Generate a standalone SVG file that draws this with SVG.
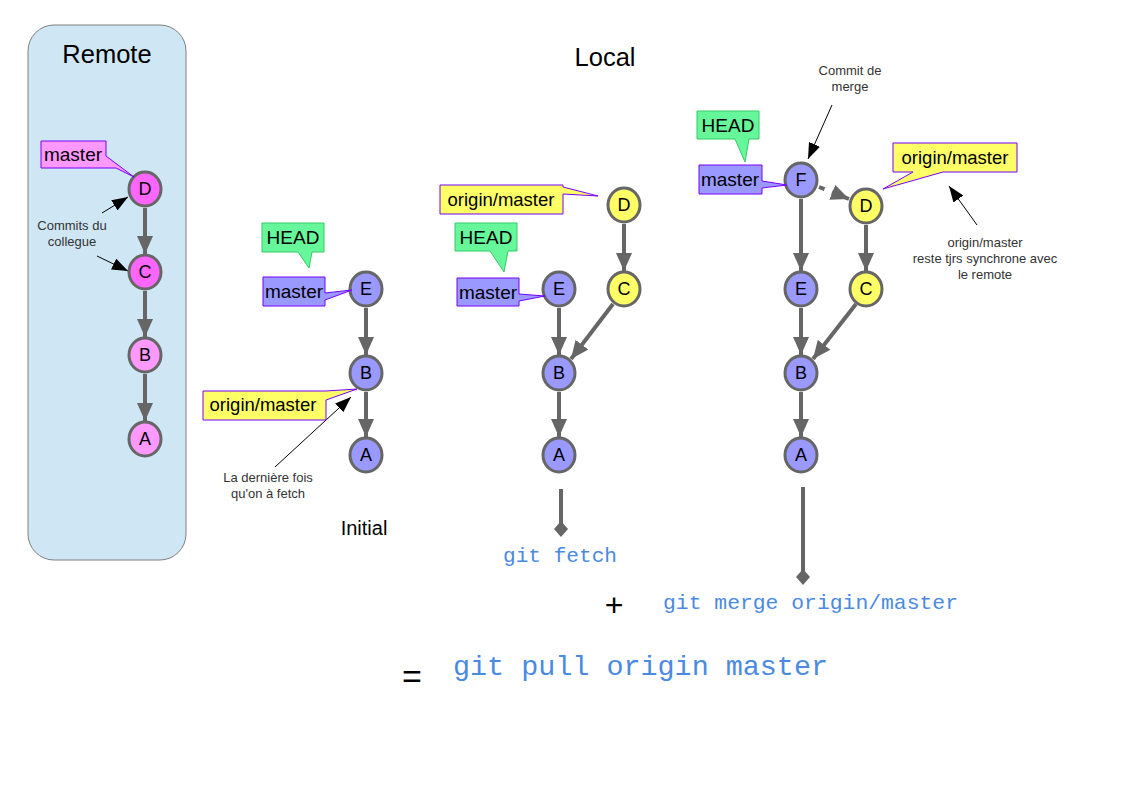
<svg xmlns="http://www.w3.org/2000/svg" width="1123" height="794" viewBox="0 0 1123 794">
<defs>
<marker id="ah" markerUnits="userSpaceOnUse" markerWidth="18" markerHeight="16" viewBox="0 0 18 16" refX="18" refY="8" orient="auto"><path d="M0,0 L18,8 L0,16 Z" fill="#666666"/></marker>
<marker id="bk" markerUnits="userSpaceOnUse" markerWidth="16" markerHeight="12" viewBox="0 0 16 12" refX="16" refY="6" orient="auto"><path d="M0,0 L16,6 L0,12 Z" fill="#000000"/></marker>
<style>
.edge{stroke:#666666;stroke-width:4;fill:none;marker-end:url(#ah)}
.ann{stroke:#000000;stroke-width:1;fill:none;marker-end:url(#bk)}
.node{stroke:#666666;stroke-width:3}
.blue{fill:#9999ff}
.yel{fill:#ffff66}
.pk1{fill:#ff66ff}
.pk2{fill:#ff99ff}
.nl{font-family:"Liberation Sans",Arial,sans-serif;font-size:18px;fill:#000;text-anchor:middle}
.lbl{font-family:"Liberation Sans",Arial,sans-serif;font-size:19px;fill:#000;text-anchor:middle}
.lbo{font-family:"Liberation Sans",Arial,sans-serif;font-size:18.5px;fill:#000;text-anchor:middle}
.head{fill:#66f79a;stroke:#33cc66;stroke-width:1}
.cb{stroke:#7700ff;stroke-width:1}
.small{font-family:"Liberation Sans",Arial,sans-serif;font-size:13px;fill:#333333;text-anchor:middle}
.title{font-family:"Liberation Sans",Arial,sans-serif;font-size:25.5px;fill:#000;text-anchor:middle}
.cmd{font-family:"Liberation Mono","Courier New",monospace;fill:#4a8ae2}
</style>
</defs>
<rect width="1123" height="794" fill="#ffffff"/>

<g id="remote">
<rect x="28" y="25" width="158" height="535" rx="26" ry="26" fill="#cfe6f4" stroke="#808080" stroke-width="1"/>
<text class="title" x="107" y="63">Remote</text>
</g>
<text class="title" x="605" y="66">Local</text>
<text x="364" y="535" font-family="Liberation Sans, Arial, sans-serif" font-size="20" text-anchor="middle" fill="#000">Initial</text>

<g id="connectors">
<line class="edge" x1="145" y1="208" x2="145" y2="254"/>
<line class="edge" x1="145" y1="291" x2="145" y2="337"/>
<line class="edge" x1="145" y1="374" x2="145" y2="421"/>
<line class="edge" x1="366" y1="308" x2="366" y2="355"/>
<line class="edge" x1="366" y1="392" x2="366" y2="437"/>
<line class="edge" x1="624" y1="224" x2="624" y2="271"/>
<line class="edge" x1="613" y1="304" x2="571" y2="359"/>
<line class="edge" x1="559" y1="308" x2="559" y2="355"/>
<line class="edge" x1="559" y1="392" x2="559" y2="437"/>
<line class="edge" x1="801" y1="199" x2="801" y2="271"/>
<line class="edge" x1="819" y1="187" x2="849" y2="199" stroke-dasharray="6,8"/>
<line class="edge" x1="866" y1="225" x2="866" y2="271"/>
<line class="edge" x1="856" y1="304" x2="813" y2="359"/>
<line class="edge" x1="801" y1="308" x2="801" y2="355"/>
<line class="edge" x1="801" y1="392" x2="801" y2="437"/>
<line x1="561" y1="489" x2="561" y2="524" stroke="#666666" stroke-width="4"/>
<path d="M561,521 L568,529 L561,537 L554,529 Z" fill="#666666"/>
<line x1="803" y1="487" x2="803" y2="572" stroke="#666666" stroke-width="4"/>
<path d="M803,569 L810,577 L803,585 L796,577 Z" fill="#666666"/>
<line class="ann" x1="102" y1="213" x2="128" y2="197"/>
<line class="ann" x1="97" y1="256" x2="128" y2="271"/>
<line class="ann" x1="275" y1="467" x2="351" y2="397"/>
<line class="ann" x1="832" y1="105" x2="808" y2="159"/>
<line class="ann" x1="977" y1="225" x2="949" y2="186"/>
</g>

<g id="remote-nodes">
<g id="rD"><ellipse class="node pk1" cx="145" cy="189" rx="16" ry="17"/><text class="nl" x="145" y="195">D</text></g>
<g id="rC"><ellipse class="node pk1" cx="145" cy="272" rx="16" ry="17"/><text class="nl" x="145" y="278">C</text></g>
<g id="rB"><ellipse class="node pk2" cx="145" cy="355" rx="16" ry="17"/><text class="nl" x="145" y="361">B</text></g>
<g id="rA"><ellipse class="node pk2" cx="145" cy="439" rx="16" ry="17"/><text class="nl" x="145" y="445">A</text></g>
<g id="rMaster"><path class="cb" fill="#ff99ff" d="M41,141 H106 V156 L134,177 L116,168 H41 Z"/><text class="lbl" x="73" y="161">master</text></g>
<text class="small" x="72" y="230">Commits du</text>
<text class="small" x="72" y="246">collegue</text>
</g>

<g id="initial">
<g id="iE"><ellipse class="node blue" cx="366" cy="289" rx="16" ry="17"/><text class="nl" x="366" y="295">E</text></g>
<g id="iB"><ellipse class="node blue" cx="366" cy="373" rx="16" ry="17"/><text class="nl" x="366" y="379">B</text></g>
<g id="iA"><ellipse class="node blue" cx="366" cy="455" rx="16" ry="17"/><text class="nl" x="366" y="461">A</text></g>
<g id="iHead"><path class="head" d="M262,223 H324 V252 H312 L309,268 L298,252 H262 Z"/><text class="lbl" x="293" y="244">HEAD</text></g>
<g id="iMaster"><path class="cb" fill="#9999ff" d="M263,277 H325 V293 L352,290 L325,300 V306 H263 Z"/><text class="lbl" x="294" y="298">master</text></g>
<g id="iOrigin"><path class="cb" fill="#ffff66" d="M203,391 H326 L357,389 L326,400 V420 H203 Z"/><text class="lbo" x="263" y="411">origin/master</text></g>
<text class="small" x="268" y="482">La dernière fois</text>
<text class="small" x="268" y="498">qu'on à fetch</text>
</g>

<g id="fetch">
<g id="fD"><ellipse class="node yel" cx="624" cy="205" rx="16" ry="17"/><text class="nl" x="624" y="211">D</text></g>
<g id="fC"><ellipse class="node yel" cx="624" cy="289" rx="16" ry="17"/><text class="nl" x="624" y="295">C</text></g>
<g id="fE"><ellipse class="node blue" cx="559" cy="289" rx="16" ry="17"/><text class="nl" x="559" y="295">E</text></g>
<g id="fB"><ellipse class="node blue" cx="559" cy="373" rx="16" ry="17"/><text class="nl" x="559" y="379">B</text></g>
<g id="fA"><ellipse class="node blue" cx="559" cy="455" rx="16" ry="17"/><text class="nl" x="559" y="461">A</text></g>
<g id="fOrigin"><path class="cb" fill="#ffff66" d="M440,185 H563 V187 L598,196 L563,194 V214 H440 Z"/><text class="lbo" x="501" y="206">origin/master</text></g>
<g id="fHead"><path class="head" d="M455,223 H517 V251 H508 L504,272 L490,251 H455 Z"/><text class="lbl" x="486" y="244">HEAD</text></g>
<g id="fMaster"><path class="cb" fill="#9999ff" d="M457,278 H519 V294 L545,296 L519,301 V306 H457 Z"/><text class="lbl" x="488" y="299">master</text></g>
<text class="cmd" x="503" y="562" font-size="21" textLength="114" lengthAdjust="spacingAndGlyphs">git fetch</text>
</g>

<g id="merge">
<g id="mF"><ellipse class="node blue" cx="801" cy="180" rx="16" ry="17"/><text class="nl" x="801" y="186">F</text></g>
<g id="mD"><ellipse class="node yel" cx="866" cy="206" rx="16" ry="17"/><text class="nl" x="866" y="212">D</text></g>
<g id="mE"><ellipse class="node blue" cx="801" cy="289" rx="16" ry="17"/><text class="nl" x="801" y="295">E</text></g>
<g id="mC"><ellipse class="node yel" cx="866" cy="289" rx="16" ry="17"/><text class="nl" x="866" y="295">C</text></g>
<g id="mB"><ellipse class="node blue" cx="801" cy="373" rx="16" ry="17"/><text class="nl" x="801" y="379">B</text></g>
<g id="mA"><ellipse class="node blue" cx="801" cy="455" rx="16" ry="17"/><text class="nl" x="801" y="461">A</text></g>
<g id="mHead"><path class="head" d="M697,111 H759 V139 H749 L745,162 L735,139 H697 Z"/><text class="lbl" x="728" y="132">HEAD</text></g>
<g id="mMaster"><path class="cb" fill="#9999ff" d="M699,165 H762 V181 L787,185 L762,188 V194 H699 Z"/><text class="lbl" x="730" y="186">master</text></g>
<g id="mOrigin"><path class="cb" fill="#ffff66" d="M893,143 H1017 V172 H943 L883,189 L913,172 H893 Z"/><text class="lbo" x="955" y="164">origin/master</text></g>
<text class="small" x="850" y="75">Commit de</text>
<text class="small" x="850" y="91">merge</text>
<text class="small" x="985" y="247">origin/master</text>
<text class="small" x="985" y="263">reste tjrs synchrone avec</text>
<text class="small" x="985" y="279">le remote</text>
<text class="cmd" x="663" y="609" font-size="21" textLength="295" lengthAdjust="spacingAndGlyphs">git merge origin/master</text>
</g>

<g id="summary">
<text x="614" y="616" font-family="Liberation Sans, Arial, sans-serif" font-size="32" text-anchor="middle" fill="#000">+</text>
<text x="412" y="688" font-family="Liberation Sans, Arial, sans-serif" font-size="34" text-anchor="middle" fill="#000">=</text>
<text class="cmd" x="453" y="675" font-size="28" textLength="375" lengthAdjust="spacingAndGlyphs">git pull origin master</text>
</g>
</svg>
